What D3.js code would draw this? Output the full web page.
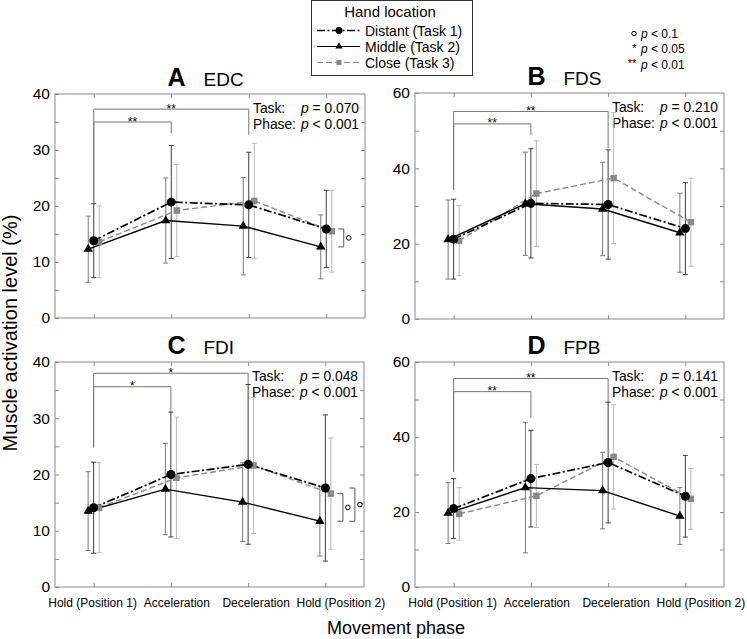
<!DOCTYPE html>
<html><head><meta charset="utf-8">
<script src="https://cdn.jsdelivr.net/npm/d3@7"></script>
<style>
body{margin:0;background:#fff}
svg{display:block}
text{font-family:"Liberation Sans",Arial,Helvetica,sans-serif}
</style>
</head><body>
<svg id="c" width="747" height="639"></svg>
<script>
// ---------- DATA ----------
const phases = ["Hold (Position 1)", "Acceleration", "Deceleration", "Hold (Position 2)"];
const seriesNames = ["Distant (Task 1)", "Middle (Task 2)", "Close (Task 3)"];

// EDC (A)
const edcDistant = [13.8, 20.7, 20.2, 15.9];
const edcDistantSD = [6.6, 10.1, 9.4, 6.9];
const edcMiddle = [12.3, 17.4, 16.4, 12.7];
const edcMiddleSD = [5.9, 7.6, 8.7, 5.7];
const edcClose = [13.6, 19.2, 20.9, 15.5];
const edcCloseSD = [6.4, 8.2, 10.3, 7.3];

// FDS (B)
const fdsDistant = [21.2, 30.7, 30.4, 24.0];
const fdsDistantSD = [10.6, 14.5, 14.5, 12.2];
const fdsMiddle = [21.1, 30.6, 29.2, 22.9];
const fdsMiddleSD = [10.5, 13.7, 12.4, 10.5];
const fdsClose = [20.8, 33.3, 37.4, 25.7];
const fdsCloseSD = [9.3, 14.0, 17.4, 11.7];

// FDI (C)
const fdiDistant = [14.1, 20.0, 21.8, 17.6];
const fdiDistantSD = [8.1, 11.1, 14.2, 13.0];
const fdiMiddle = [13.5, 17.4, 15.1, 11.7];
const fdiMiddleSD = [7.0, 8.1, 7.0, 6.2];
const fdiClose = [14.1, 19.4, 21.6, 16.6];
const fdiCloseSD = [8.0, 10.8, 12.1, 9.9];

// FPB (D)
const fpbDistant = [20.9, 28.9, 33.2, 24.2];
const fpbDistantSD = [8.0, 12.9, 16.1, 10.9];
const fpbMiddle = [19.7, 26.5, 25.7, 18.9];
const fpbMiddleSD = [8.1, 17.4, 10.2, 7.6];
const fpbClose = [19.5, 24.3, 34.7, 23.5];
const fpbCloseSD = [7.0, 8.4, 13.9, 8.1];

// statistics text
const taskP = ["0.070", "0.210", "0.048", "0.141"];
const phaseP = ["0.001", "0.001", "0.001", "0.001"];

// phase comparison brackets (values in %)
const edcBrackets = [
  {from: 0, to: 1, top: 35.0, leftEnd: 20.4, rightEnd: 33.0, label: "**"},
  {from: 0, to: 2, top: 37.3, leftEnd: 20.4, rightEnd: 32.7, label: "**"}];
const fdsBrackets = [
  {from: 0, to: 1, top: 51.8, leftEnd: 34.3, rightEnd: 48.9, label: "**"},
  {from: 0, to: 2, top: 55.1, leftEnd: 34.3, rightEnd: 45.2, label: "**"}];
const fdiBrackets = [
  {from: 0, to: 1, top: 35.6, leftEnd: 24.8, rightEnd: 31.0, label: "*"},
  {from: 0, to: 2, top: 38.0, leftEnd: 24.8, rightEnd: 35.9, label: "*"}];
const fpbBrackets = [
  {from: 0, to: 1, top: 52.1, leftEnd: 30.7, rightEnd: 45.0, label: "**"},
  {from: 0, to: 2, top: 55.6, leftEnd: 30.7, rightEnd: 49.1, label: "**"}];

// task comparison brackets (series index a vs b at a phase, p < 0.1)
const edcTaskBrackets = [{phase: 3, a: 0, b: 1, level: 0}];
const fdsTaskBrackets = [];
const fdiTaskBrackets = [{phase: 3, a: 2, b: 1, level: 0}, {phase: 3, a: 0, b: 1, level: 1}];
const fpbTaskBrackets = [];

const sigLabels = ["p < 0.1", "p < 0.05", "p < 0.01"];

// ---------- LAYOUT / STYLE ----------
const styles = [
  {line: "#000", width: 1.7, dash: "8,2.5,2,2.5", symbol: d3.symbolCircle, size: 64, fill: "#000", err: "#3c3c3c", dx: 0},
  {line: "#000", width: 1.4, dash: null, symbol: d3.symbolTriangle, size: 38, fill: "#000", err: "#7a7a7a", dx: -5.5},
  {line: "#8a8a8a", width: 1.4, dash: "6,3", symbol: d3.symbolSquare, size: 42, fill: "#888", err: "#b8b8b8", dx: 5.5}
];
const frameColor = "#8a8a8a";
const labelShift = [-1.5, 5.5, 7.5, 15];   // horizontal nudge of the phase labels

const panels = [
  {letter: "A", name: "EDC", means: [edcDistant, edcMiddle, edcClose], sds: [edcDistantSD, edcMiddleSD, edcCloseSD],
   max: 40, major: 10, minor: 5, x0: 55, x1: 365, top: 94, bottom: 318, xLabels: false,
   brackets: edcBrackets, taskBr: edcTaskBrackets, idx: 0},
  {letter: "B", name: "FDS", means: [fdsDistant, fdsMiddle, fdsClose], sds: [fdsDistantSD, fdsMiddleSD, fdsCloseSD],
   max: 60, major: 20, minor: 10, x0: 415, x1: 724, top: 93, bottom: 319, xLabels: false,
   brackets: fdsBrackets, taskBr: fdsTaskBrackets, idx: 1},
  {letter: "C", name: "FDI", means: [fdiDistant, fdiMiddle, fdiClose], sds: [fdiDistantSD, fdiMiddleSD, fdiCloseSD],
   max: 40, major: 10, minor: 5, x0: 55, x1: 364, top: 362, bottom: 587, xLabels: true,
   brackets: fdiBrackets, taskBr: fdiTaskBrackets, idx: 2},
  {letter: "D", name: "FPB", means: [fpbDistant, fpbMiddle, fpbClose], sds: [fpbDistantSD, fpbMiddleSD, fpbCloseSD],
   max: 60, major: 20, minor: 10, x0: 415, x1: 724, top: 362, bottom: 587, xLabels: true,
   brackets: fpbBrackets, taskBr: fpbTaskBrackets, idx: 3}
];

const svg = d3.select("#c");

panels.forEach(p => {
  const x = d3.scalePoint().domain(phases).range([p.x0, p.x1]).padding(0.5);
  const y = d3.scaleLinear().domain([0, p.max]).range([p.bottom, p.top]);
  const g = svg.append("g");
  const ticksV = d3.range(0, p.max + 0.001, p.minor);

  // frame
  g.append("rect").attr("x", p.x0).attr("y", p.top).attr("width", p.x1 - p.x0).attr("height", p.bottom - p.top)
    .attr("fill", "none").attr("stroke", frameColor).attr("stroke-width", 1);

  const styleAxis = sel => {
    sel.select(".domain").remove();
    sel.selectAll(".tick line").attr("stroke", frameColor);
  };
  g.append("g").attr("transform", `translate(${p.x0},0)`)
    .call(d3.axisLeft(y).tickValues(ticksV).tickSize(-4).tickPadding(5)
      .tickFormat(d => d % p.major === 0 ? d : ""))
    .call(styleAxis)
    .call(s => s.selectAll("text").attr("font-size", 15.5).attr("fill", "#000")
      .attr("font-family", '"Liberation Sans",Arial,sans-serif'));
  g.append("g").attr("transform", `translate(${p.x1},0)`)
    .call(d3.axisRight(y).tickValues(ticksV.filter(v => v > 0 && v < p.max)).tickSize(-4).tickFormat(""))
    .call(styleAxis);
  g.append("g").attr("transform", `translate(0,${p.top})`)
    .call(d3.axisTop(x).tickSize(-4).tickFormat(""))
    .call(styleAxis);
  g.append("g").attr("transform", `translate(0,${p.bottom})`)
    .call(d3.axisBottom(x).tickSize(-4).tickPadding(11).tickFormat(p.xLabels ? (d => d) : ""))
    .call(styleAxis)
    .call(s => s.selectAll("text").attr("font-size", 12).attr("fill", "#000")
      .attr("dx", (d, i) => labelShift[i])
      .attr("font-family", '"Liberation Sans",Arial,sans-serif'));

  // title
  g.append("text").attr("x", p.x0 + 112.5).attr("y", p.top - 8).attr("font-size", 25).attr("font-weight", "bold").text(p.letter);
  g.append("text").attr("x", p.x0 + 148.5).attr("y", p.top - 8).attr("font-size", 19).text(p.name);

  // statistics
  const st = g.append("g").attr("font-size", 13.8);
  st.append("text").attr("x", p.x1 - 112).attr("y", p.top + 19).text("Task:");
  st.append("text").attr("x", p.x1 - 112).attr("y", p.top + 34.5).text("Phase:");
  const t1 = st.append("text").attr("x", p.x1 - 6).attr("y", p.top + 19).attr("text-anchor", "end");
  t1.append("tspan").attr("font-style", "italic").text("p");
  t1.append("tspan").text(" = " + taskP[p.idx]);
  const t2 = st.append("text").attr("x", p.x1 - 6).attr("y", p.top + 34.5).attr("text-anchor", "end");
  t2.append("tspan").attr("font-style", "italic").text("p");
  t2.append("tspan").text(" < " + phaseP[p.idx]);

  // phase brackets
  p.brackets.forEach(b => {
    const xa = x(phases[b.from]), xb = x(phases[b.to]);
    g.append("path")
      .attr("d", `M${xa},${y(b.leftEnd)}V${y(b.top)}H${xb}V${y(b.rightEnd)}`)
      .attr("fill", "none").attr("stroke", "#777").attr("stroke-width", 1);
    g.append("text").attr("x", (xa + xb) / 2).attr("y", y(b.top) + 3.5).attr("text-anchor", "middle")
      .attr("font-size", 12).text(b.label);
  });

  // error bars
  [2, 1, 0].forEach(si => {
    const s = styles[si];
    phases.forEach((ph, i) => {
      const cx = x(ph) + s.dx, m = p.means[si][i], sd = p.sds[si][i];
      g.append("path")
        .attr("d", `M${cx},${y(m - sd)}V${y(m + sd)}M${cx - 2.5},${y(m - sd)}H${cx + 2.5}M${cx - 2.5},${y(m + sd)}H${cx + 2.5}`)
        .attr("fill", "none").attr("stroke", s.err).attr("stroke-width", 1);
    });
  });

  // lines
  [2, 1, 0].forEach(si => {
    const s = styles[si];
    const line = d3.line().x((d, i) => x(phases[i]) + s.dx).y(d => y(d));
    g.append("path").attr("d", line(p.means[si])).attr("fill", "none")
      .attr("stroke", s.line).attr("stroke-width", s.width).attr("stroke-dasharray", s.dash);
  });

  // markers
  [2, 1, 0].forEach(si => {
    const s = styles[si];
    p.means[si].forEach((m, i) => {
      g.append("path").attr("d", d3.symbol().type(s.symbol).size(s.size)())
        .attr("transform", `translate(${x(phases[i]) + s.dx},${y(m)})`).attr("fill", s.fill);
    });
  });

  // task brackets
  p.taskBr.forEach(b => {
    const bx = x(phases[b.phase]) + 12 + b.level * 12;
    const ya = y(p.means[b.a][b.phase]), yb = y(p.means[b.b][b.phase]);
    g.append("path").attr("d", `M${bx},${ya}H${bx + 5.5}V${yb}H${bx}`)
      .attr("fill", "none").attr("stroke", "#555").attr("stroke-width", 1);
    g.append("circle").attr("cx", bx + 10.5).attr("cy", (ya + yb) / 2).attr("r", 2.3)
      .attr("fill", "none").attr("stroke", "#000").attr("stroke-width", 1);
  });
});

// y label
svg.append("text").attr("transform", "translate(17,333) rotate(-90)").attr("text-anchor", "middle")
  .attr("font-size", 20).text("Muscle activation level (%)");
// x label
svg.append("text").attr("x", 396).attr("y", 634).attr("text-anchor", "middle")
  .attr("font-size", 18).text("Movement phase");

// legend
const lg = svg.append("g");
lg.append("rect").attr("x", 311.5).attr("y", 0.5).attr("width", 161).attr("height", 75)
  .attr("fill", "#fff").attr("stroke", "#333").attr("stroke-width", 1);
lg.append("text").attr("x", 390).attr("y", 17).attr("text-anchor", "middle").attr("font-size", 15).text("Hand location");
seriesNames.forEach((n, i) => {
  const s = styles[i], cy = 30.5 + i * 16;
  lg.append("line").attr("x1", 317).attr("x2", 360).attr("y1", cy).attr("y2", cy)
    .attr("stroke", s.line).attr("stroke-width", s.width - 0.3).attr("stroke-dasharray", s.dash);
  lg.append("path").attr("d", d3.symbol().type(s.symbol).size(s.size * 0.6)())
    .attr("transform", `translate(339,${cy})`).attr("fill", s.fill);
  lg.append("text").attr("x", 365).attr("y", cy + 5).attr("font-size", 14).text(n);
});

// significance key
const sk = svg.append("g");
sk.append("circle").attr("cx", 634).attr("cy", 33.5).attr("r", 2.2).attr("fill", "none").attr("stroke", "#000");
sk.append("text").attr("x", 634.5).attr("y", 52).attr("text-anchor", "middle").attr("font-size", 11).text("*");
sk.append("text").attr("x", 632).attr("y", 67).attr("text-anchor", "middle").attr("font-size", 11).text("**");
sigLabels.forEach((t, i) => {
  const tx = sk.append("text").attr("x", 641).attr("y", 37.5 + i * 15.5).attr("font-size", 12);
  tx.append("tspan").attr("font-style", "italic").text(t.slice(0, 1));
  tx.append("tspan").text(t.slice(1));
});
</script>
</body></html>
